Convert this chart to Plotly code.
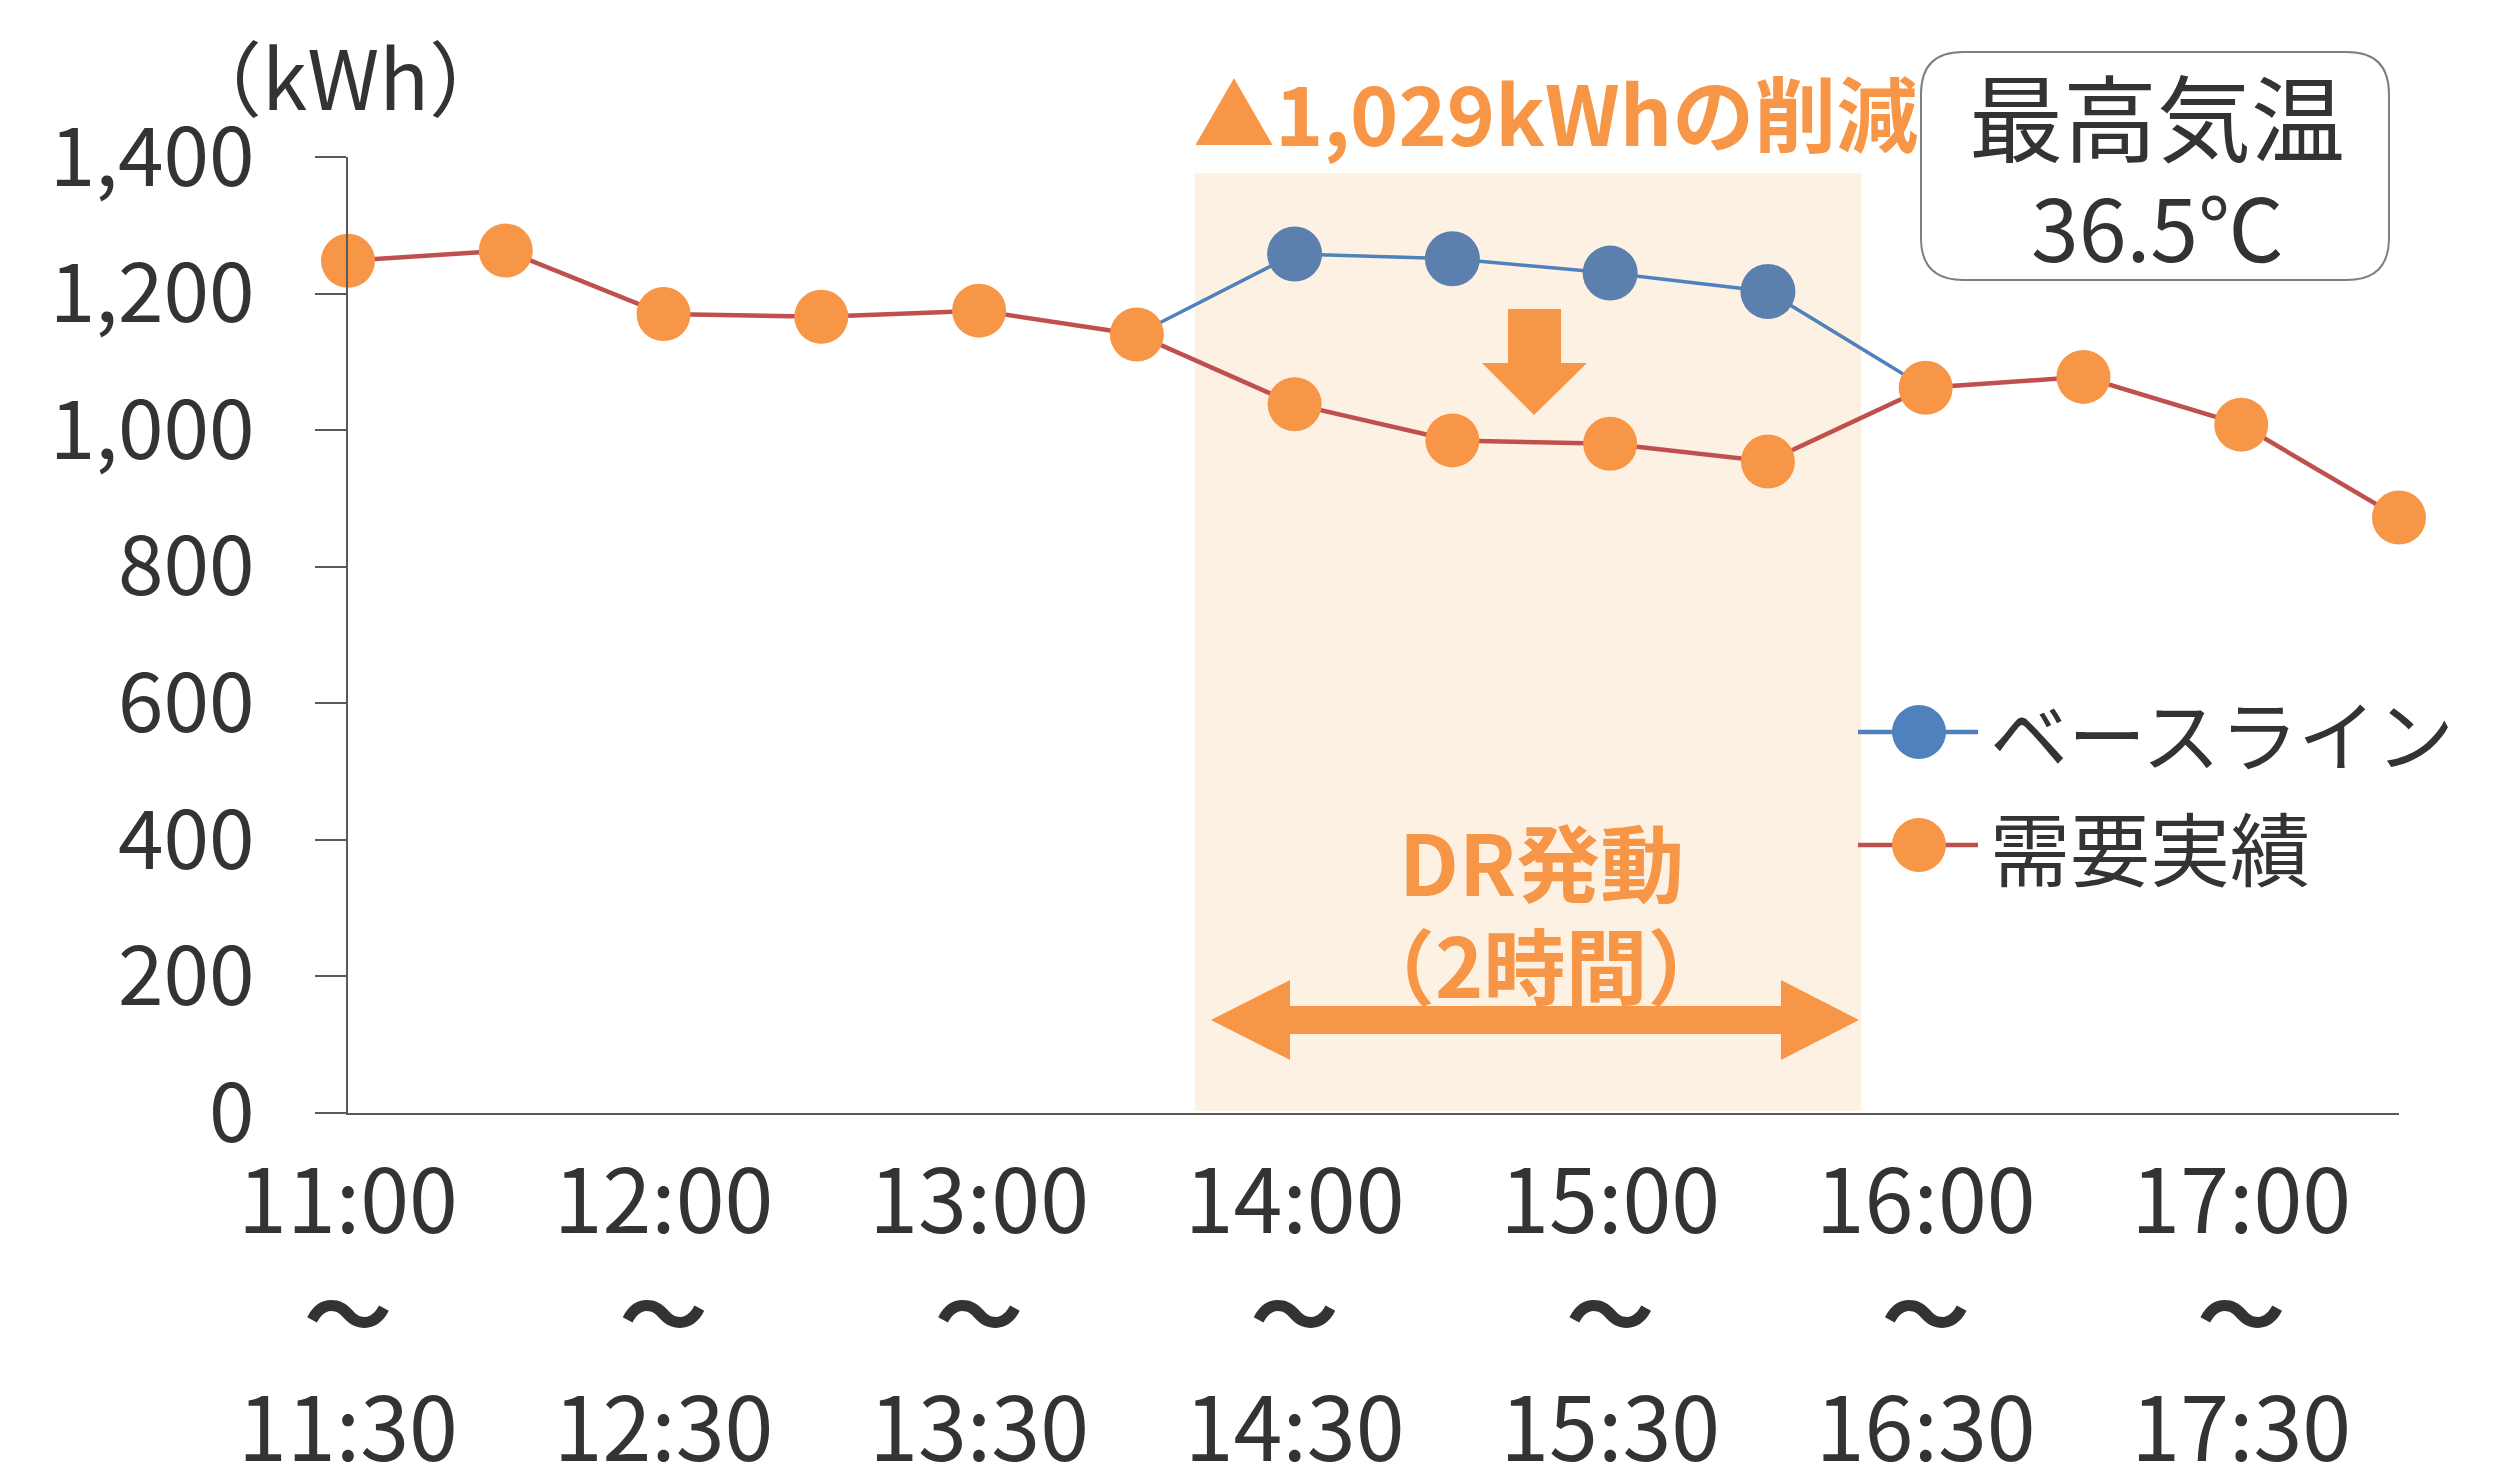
import plotly.graph_objects as go

# ---- data ----
time_labels = ["11:00", "11:30", "12:00", "12:30", "13:00", "13:30", "14:00",
               "14:30", "15:00", "15:30", "16:00", "16:30", "17:00", "17:30"]
tick_labels = ["11:00<br><b>～</b><br>11:30", "12:00<br><b>～</b><br>12:30", "13:00<br><b>～</b><br>13:30",
               "14:00<br><b>～</b><br>14:30", "15:00<br><b>～</b><br>15:30", "16:00<br><b>～</b><br>16:30",
               "17:00<br><b>～</b><br>17:30"]
actual = [1248, 1263, 1170, 1166, 1175, 1140, 1038, 985, 980, 954, 1062, 1078, 1008, 872]
baseline = [None, None, None, None, None, 1140, 1258, 1251, 1230, 1203, 1062, None, None, None]
dr_flag = [0, 0, 0, 0, 0, 0, 1, 1, 1, 1, 0, 0, 0, 0]
y_ticks = [0, 200, 400, 600, 800, 1000, 1200, 1400]

W, H = 2520, 1484
L, R, T, B = 348, 2399, 157, 1113  # plot area in pixels

def px(x):
    return (x - L) / (R - L)

def py(y):
    return (B - y) / (B - T)

ORANGE = "#F79646"
RED = "#C0504D"
BLUE = "#4F81BD"
BLUE_MK = "#5B80AE"
TXT = "#333333"
AX = "#595959"
FONT = "Noto Sans CJK JP"

xs = list(range(len(time_labels)))
fig = go.Figure()

bx = [x for x, v in zip(xs, baseline) if v is not None]
bv = [v for v in baseline if v is not None]
fig.add_trace(go.Scatter(x=bx, y=bv, mode="lines", name="ベースライン",
                         line=dict(color=BLUE, width=3.5),
                         cliponaxis=False, showlegend=False))
mx = [x for x, f in zip(xs, dr_flag) if f]
mv = [baseline[x] for x in mx]
fig.add_trace(go.Scatter(x=mx, y=mv, mode="markers", name="ベースライン",
                         marker=dict(color=BLUE_MK, size=55, opacity=1, line=dict(width=0)),
                         opacity=1, cliponaxis=False, showlegend=False))
fig.add_trace(go.Scatter(x=xs, y=actual, mode="lines+markers", name="需要実績",
                         line=dict(color=RED, width=4.5),
                         marker=dict(color=ORANGE, size=54, opacity=1, line=dict(width=0)),
                         cliponaxis=False, showlegend=False))

shapes = []
# DR period shading
shapes.append(dict(type="rect", xref="paper", yref="paper", x0=px(1195), x1=px(1861),
                   y0=py(1111), y1=py(173), fillcolor="#FDF1E4", line=dict(width=0), layer="below"))
# down arrow
pts = [(1508, 309), (1561, 309), (1561, 363), (1587, 363), (1534, 415), (1482, 363), (1508, 363)]
path = "M " + " L ".join(f"{px(a):.5f},{py(b):.5f}" for a, b in pts) + " Z"
shapes.append(dict(type="path", xref="paper", yref="paper", path=path,
                   fillcolor=ORANGE, line=dict(width=0)))
# double arrow
pts = [(1211, 1020), (1290, 980), (1290, 1006), (1781, 1006), (1781, 980), (1859, 1020),
       (1781, 1060), (1781, 1034), (1290, 1034), (1290, 1060)]
path = "M " + " L ".join(f"{px(a):.5f},{py(b):.5f}" for a, b in pts) + " Z"
shapes.append(dict(type="path", xref="paper", yref="paper", path=path,
                   fillcolor=ORANGE, line=dict(width=0)))
# rounded box for temperature
x0, x1, y0, y1, r = 1921, 2389, 52, 280, 42
def P(a, b):
    return f"{px(a):.5f},{py(b):.5f}"
path = (f"M {P(x0 + r, y0)} L {P(x1 - r, y0)} Q {P(x1, y0)} {P(x1, y0 + r)} "
        f"L {P(x1, y1 - r)} Q {P(x1, y1)} {P(x1 - r, y1)} L {P(x0 + r, y1)} "
        f"Q {P(x0, y1)} {P(x0, y1 - r)} L {P(x0, y0 + r)} Q {P(x0, y0)} {P(x0 + r, y0)} Z")
shapes.append(dict(type="path", xref="paper", yref="paper", path=path,
                   fillcolor="white", line=dict(color="#7F7F7F", width=2)))
# custom legend
for yy, lc, mc in [(732, BLUE, BLUE), (845, RED, ORANGE)]:
    shapes.append(dict(type="line", xref="paper", yref="paper", x0=px(1858), x1=px(1978),
                       y0=py(yy), y1=py(yy), line=dict(color=lc, width=4.5)))
    shapes.append(dict(type="circle", xref="paper", yref="paper",
                       x0=px(1919 - 27), x1=px(1919 + 27), y0=py(yy + 27), y1=py(yy - 27),
                       fillcolor=mc, line=dict(width=0)))

def ann(text, x, y, size, color=TXT, xanchor="center", bold=False):
    return dict(text=f"<b>{text}</b>" if bold else text, x=px(x), y=py(y), xref="paper", yref="paper",
                showarrow=False, xanchor=xanchor, yanchor="middle",
                font=dict(family=FONT, size=size, color=color))

annotations = [
    ann("（kWh）", 345, 74, 82),
    ann("▲1,029kWhの削減", 1555, 110, 82, ORANGE, bold=True),
    ann("最高気温", 2157, 114, 94),
    ann("36.5℃", 2157, 224, 86),
    ann("DR発動", 1541, 860, 84, ORANGE, bold=True),
    ann("（2時間）", 1541, 962, 82, ORANGE, bold=True),
    ann("ベースライン", 1988, 732, 78, xanchor="left"),
    ann("需要実績", 1988, 845, 80, xanchor="left"),
]

fig.update_layout(
    width=W, height=H,
    margin=dict(l=L, r=W - R, t=T, b=H - B),
    paper_bgcolor="white", plot_bgcolor="rgba(0,0,0,0)",
    shapes=shapes, annotations=annotations, showlegend=False,
    font=dict(family=FONT, color=TXT),
)
fig.update_xaxes(range=[0, 13], tickmode="array", tickvals=[0, 2, 4, 6, 8, 10, 12],
                 ticktext=tick_labels, showgrid=False, zeroline=False, automargin=False,
                 showline=True, linecolor=AX, linewidth=2, ticks="",
                 tickfont=dict(family=FONT, size=88, color=TXT), ticklabelstandoff=12)
fig.update_yaxes(range=[0, 1400], tickmode="array", tickvals=y_ticks,
                 ticktext=[f"{v:,}" for v in y_ticks], showgrid=False, zeroline=False,
                 automargin=False,
                 showline=True, linecolor=AX, linewidth=2, ticks="outside",
                 ticklen=31, tickwidth=2, tickcolor=AX,
                 tickfont=dict(family=FONT, size=82, color=TXT), ticklabelstandoff=44)

fig.write_html("out.html")
